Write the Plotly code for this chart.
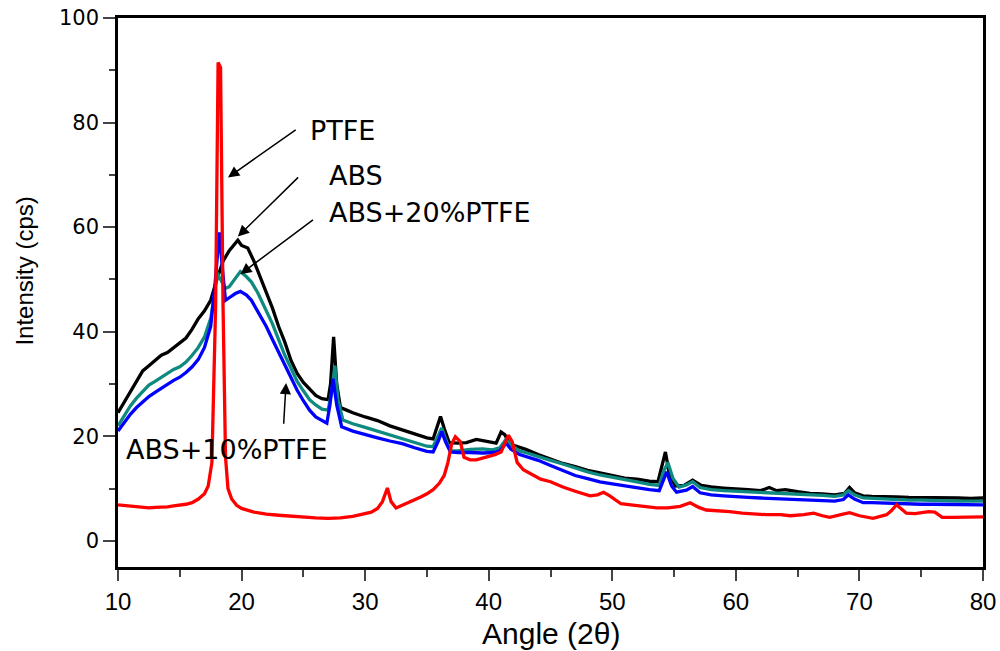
import plotly.graph_objects as go

# ---------------- data ----------------
abs_x = [10, 10.5, 11, 11.5, 12, 12.5, 13, 13.5, 14, 14.5, 15, 15.5, 16, 16.5, 17, 17.5, 18, 18.5, 19, 19.5,
         19.7, 20, 20.5, 21, 21.5, 22, 22.5, 23, 23.5, 24, 24.5, 25, 25.5, 26, 26.5, 27, 27.2, 27.45, 27.7, 28,
         28.5, 29, 30, 31, 32, 33, 34, 35, 35.5, 35.8, 36.1, 36.4, 36.8, 37.5, 38.2, 39, 39.5, 40, 40.6, 41.0,
         41.3, 41.7, 42.3, 43, 44, 45, 46, 47, 48, 49, 50, 51, 52, 53, 53.7, 54.0, 54.3, 54.6, 55.1, 55.8,
         56.5, 57.2, 58, 59, 60, 61, 62, 62.7, 63.3, 64, 65, 66, 67, 68, 68.8, 69.2, 69.6, 70.3, 71, 72,
         73, 74, 75, 76, 77, 78, 79, 80]
abs_y = [24.5, 26.5, 28.5, 30.5, 32.5, 33.5, 34.5, 35.5, 36, 37, 37.8, 38.8, 40.5, 42.5, 44, 46, 50, 53.5, 55.5, 57,
         57.5, 56.5, 56, 53.5, 50.5, 47.5, 44.5, 41, 38, 34.5, 32, 30.3, 29, 27.8, 27.2, 27, 30, 39, 30, 25.5,
         25, 24.5, 23.7, 23, 22, 21.2, 20.5, 19.7, 19.5, 21.5, 23.8, 21.5, 18.8, 18.7, 18.8, 19.4, 19.2, 19, 18.7, 20.8,
         20.3, 18.5, 18, 17.5, 16.5, 15.6, 14.8, 14.2, 13.5, 13, 12.5, 12, 11.8, 11.4, 11.3, 14, 17, 13, 10.5, 10.6,
         11.6, 10.6, 10.3, 10.1, 10, 9.8, 9.6, 10.2, 9.6, 9.8, 9.4, 9.1, 9.0, 8.8, 9.1, 10.2, 9.2, 8.6, 8.5, 8.5,
         8.4, 8.3, 8.3, 8.2, 8.2, 8.2, 8.1, 8.2]

abs20_x = [10, 10.5, 11, 11.5, 12, 12.5, 13, 13.5, 14, 14.5, 15, 15.5, 16, 16.5, 17, 17.5, 17.8, 18.0, 18.3, 18.7,
           19.0, 19.4, 19.9, 20.4, 20.8, 21.3, 21.6, 22, 22.5, 23, 23.5, 24, 24.5, 25, 25.5, 26, 26.5, 27, 27.3, 27.55,
           27.8, 28.2, 29, 30, 31, 32, 33, 34, 35, 35.5, 35.9, 36.2, 36.5, 36.9, 37.5, 38.5, 39.5, 40.3, 40.9, 41.4,
           41.8, 42.5, 43.1, 44, 45, 46, 47, 48, 49, 50, 51, 52, 53, 53.8, 54.1, 54.5, 54.9, 55.4, 56, 56.5,
           57.1, 58, 59, 60, 61, 62, 63, 64, 65, 66, 67, 68, 68.7, 69.1, 69.6, 70.3, 71, 72, 73, 74,
           75, 76, 77, 78, 79, 80]
abs20_y = [22, 24, 25.8, 27.3, 28.6, 29.8, 30.5, 31.3, 32, 32.8, 33.3, 34.2, 35.5, 37, 39, 42.5, 47, 51.3, 50, 48.3,
           48.6, 49.8, 51.5, 50.5, 49.5, 47.5, 46, 44, 41.5, 38.5, 35.5, 33, 30.5, 28.7, 27, 26, 25.2, 25, 28.5, 33.5,
           27, 23.1, 22.4, 21.7, 21, 20.2, 19.6, 18.8, 18.1, 18, 20, 21.6, 19.5, 17.2, 17.2, 17.5, 17.6, 17.4, 17.8, 19.4,
           18.3, 17.2, 16.8, 16.2, 15.4, 14.7, 13.9, 13.2, 12.6, 12.2, 11.7, 11.3, 10.8, 10.6, 13, 15, 12, 10.3, 10.7, 11.3,
           10.2, 9.8, 9.6, 9.5, 9.3, 9.2, 9.2, 9.0, 8.9, 8.8, 8.7, 8.5, 8.8, 9.6, 8.8, 8.2, 8.1, 8.0, 7.9, 7.8,
           7.8, 7.7, 7.7, 7.6, 7.6, 7.6]

abs10_x = [10, 10.5, 11, 11.5, 12, 12.5, 13, 13.5, 14, 14.5, 15, 15.5, 16, 16.5, 17, 17.5, 17.85, 18.2, 18.45, 18.7,
           19.0, 19.5, 19.9, 20.4, 20.8, 21.3, 21.6, 22, 22.5, 23, 23.5, 24, 24.5, 25, 25.5, 26, 26.5, 26.9, 27.15, 27.4,
           27.7, 28.1, 29, 30, 31, 32, 33, 34, 35, 35.5, 35.9, 36.2, 36.5, 36.9, 37.5, 38.5, 39.5, 40.4, 40.9, 41.4,
           41.8, 42.5, 43.1, 44, 45, 46, 47, 48, 49, 50, 51, 52, 53, 53.8, 54.1, 54.4, 54.8, 55.2, 56, 56.5,
           57.1, 58, 59, 60, 61, 62, 63, 64, 65, 66, 67, 68, 68.7, 69.1, 69.6, 70.3, 71, 72, 73, 74,
           75, 76, 77, 78, 79, 80]
abs10_y = [21, 22.7, 24.2, 25.5, 26.6, 27.6, 28.4, 29.2, 30, 30.7, 31.3, 32.2, 33.3, 34.7, 37, 41, 49, 59, 52, 46,
           46.5, 47.3, 47.7, 47, 46, 44, 42.8, 41, 38.5, 36, 33.5, 31.3, 28.8, 26.8, 25, 23.7, 23, 22.5, 26, 31,
           26, 21.8, 21, 20.3, 19.7, 19.1, 18.6, 17.8, 17.1, 17, 19, 20.9, 19, 17, 16.9, 16.9, 16.8, 16.9, 17.2, 18.7,
           17.5, 16.5, 16.1, 15.4, 14.4, 13.4, 12.5, 11.9, 11.3, 10.9, 10.5, 10.1, 9.8, 9.6, 11.5, 13.2, 10.5, 9.3, 9.7, 10.4,
           9.2, 8.8, 8.6, 8.4, 8.3, 8.2, 8.1, 7.9, 7.9, 7.8, 7.7, 7.6, 7.9, 8.8, 8, 7.3, 7.3, 7.2, 7.1, 7.1,
           7.0, 7.0, 7.0, 6.9, 6.9, 6.9]

ptfe_x = [10, 10.5, 11, 11.5, 12, 12.5, 13, 13.5, 14, 14.5, 15, 15.5, 16, 16.5, 17, 17.3, 17.6, 17.9, 18.1, 18.3, 18.5,
          18.7, 18.9, 19.2, 19.6, 20, 21, 22, 23, 24, 25, 26, 27, 28, 29, 30, 30.5, 31, 31.4, 31.8, 32.1,
          32.5, 33, 33.5, 34, 34.5, 35, 35.5, 36, 36.4, 36.7, 37.0, 37.3, 37.7, 38.0, 38.5, 39, 39.5, 40, 40.5, 41,
          41.3, 41.6, 41.9, 42.3, 42.8, 43.6, 44.2, 45, 46, 47, 48.2, 48.8, 49.3, 49.8, 50.7, 51.5, 52.5, 53.6, 54.5, 55.5,
          56.3, 57, 57.6, 58.5, 59.5, 60.5, 61.5, 62.5, 63.6, 64.4, 65.5, 66.3, 67, 67.6, 68.5, 69.2, 70, 71.1, 72.2, 72.6,
          73.0, 73.4, 73.8, 74.5, 75.6, 76.1, 76.7, 77.5, 78.5, 79.3, 80]
ptfe_y = [6.9, 6.8, 6.7, 6.5, 6.4, 6.3, 6.4, 6.4, 6.5, 6.7, 6.8, 7.0, 7.3, 8.0, 9.0, 10.5, 15, 45, 91.5, 90.5, 45,
          16, 10, 8, 6.8, 6.2, 5.5, 5.1, 4.9, 4.7, 4.5, 4.4, 4.3, 4.4, 4.7, 5.2, 5.5, 6.2, 7.5, 10.1, 7.5,
          6.3, 6.8, 7.3, 7.8, 8.4, 9.0, 9.8, 11, 12.5, 15, 18.5, 19.9, 19, 16.0, 15.5, 15.5, 15.8, 16.2, 16.5, 17,
          18.5, 20.2, 19, 15, 13.6, 12.6, 11.8, 11.3, 10.3, 9.5, 8.6, 8.8, 9.3, 8.6, 7.1, 6.9, 6.6, 6.3, 6.3, 6.6,
          7.3, 6.4, 5.9, 5.8, 5.6, 5.3, 5.1, 5.0, 5.0, 4.8, 5.0, 5.3, 4.8, 4.5, 5.0, 5.4, 4.8, 4.3, 5.0, 5.8,
          6.9, 6.0, 5.3, 5.2, 5.6, 5.5, 4.5, 4.5, 4.6, 4.6, 4.6]

x_ticks = [10, 20, 30, 40, 50, 60, 70, 80]
y_ticks = [0, 20, 40, 60, 80, 100]

# ---------------- figure ----------------
fig = go.Figure()
series = [
    ("ABS", abs_x, abs_y, "#000000"),
    ("ABS+20%PTFE", abs20_x, abs20_y, "#0f8a80"),
    ("ABS+10%PTFE", abs10_x, abs10_y, "#0000ff"),
    ("PTFE", ptfe_x, ptfe_y, "#ff0000"),
]
for name, xs, ys, col in series:
    fig.add_trace(go.Scatter(x=xs, y=ys, mode="lines", name=name,
                             line=dict(color=col, width=3.3), showlegend=False))

narrow = "Liberation Sans Narrow, Arial Narrow, Liberation Sans, Arial"
sans = "Liberation Sans, Arial, sans-serif"
wide = "DejaVu Sans, Verdana, sans-serif"

fig.update_layout(
    width=1000, height=651,
    margin=dict(l=118, r=17, t=18, b=84, autoexpand=False),
    paper_bgcolor="white", plot_bgcolor="white",
    xaxis=dict(range=[10, 80], tickvals=x_ticks, ticks="outside", ticklen=11, tickwidth=2,
               automargin=False, ticklabeloverflow="allow",
               showline=True, linewidth=2.5, linecolor="black", mirror=True, showgrid=False, zeroline=False,
               tickfont=dict(family=narrow, size=24, color="black"),
               minor=dict(dtick=5, tick0=0, ticks="outside", ticklen=7, tickwidth=2, showgrid=False)),
    yaxis=dict(range=[-5, 100], tickvals=y_ticks, ticks="outside", ticklen=12, tickwidth=2,
               automargin=False, ticklabeloverflow="allow",
               showline=True, linewidth=2.5, linecolor="black", mirror=True, showgrid=False, zeroline=False,
               tickfont=dict(family=wide, size=21, color="black"),
               minor=dict(dtick=10, tick0=0, ticks="outside", ticklen=6, tickwidth=2, showgrid=False)),
)

fig.add_annotation(text="Angle (2θ)", xref="paper", yref="paper", x=0.5, y=0, yshift=-66,
                   showarrow=False, font=dict(family=sans, size=30, color="black"), yanchor="middle")
fig.add_annotation(text="Intensity (cps)", xref="paper", yref="y", x=0, y=51.5, xshift=-93,
                   textangle=-90, showarrow=False, font=dict(family=narrow, size=24, color="black"),
                   xanchor="center", yanchor="middle")

# labels
labels = [("PTFE", 25.4, 78.4), ("ABS", 26.9, 69.8), ("ABS+20%PTFE", 26.9, 62.8), ("ABS+10%PTFE", 10.5, 17.4)]
for txt, lx, ly in labels:
    fig.add_annotation(text=txt, x=lx, y=ly, xref="x", yref="y", showarrow=False, xanchor="left",
                       yanchor="middle", font=dict(family=wide, size=27, color="black"))

# arrows: (tail x, tail y, head x, head y)
arrows = [(24.5, 78.8, 18.9, 69.5), (24.7, 69.8, 19.7, 58.2), (25.9, 61.6, 19.9, 51.0), (23.4, 22.1, 23.6, 30.2)]
for tx, ty, hx, hy in arrows:
    fig.add_annotation(text="", x=hx, y=hy, ax=tx, ay=ty, xref="x", yref="y", axref="x", ayref="y",
                       showarrow=True, arrowhead=2, arrowsize=1.5, arrowwidth=1.5, arrowcolor="black")

fig.write_html("out.html", config={"displayModeBar": False},
               post_script="document.body.style.margin='0';document.body.style.overflow='hidden';")
